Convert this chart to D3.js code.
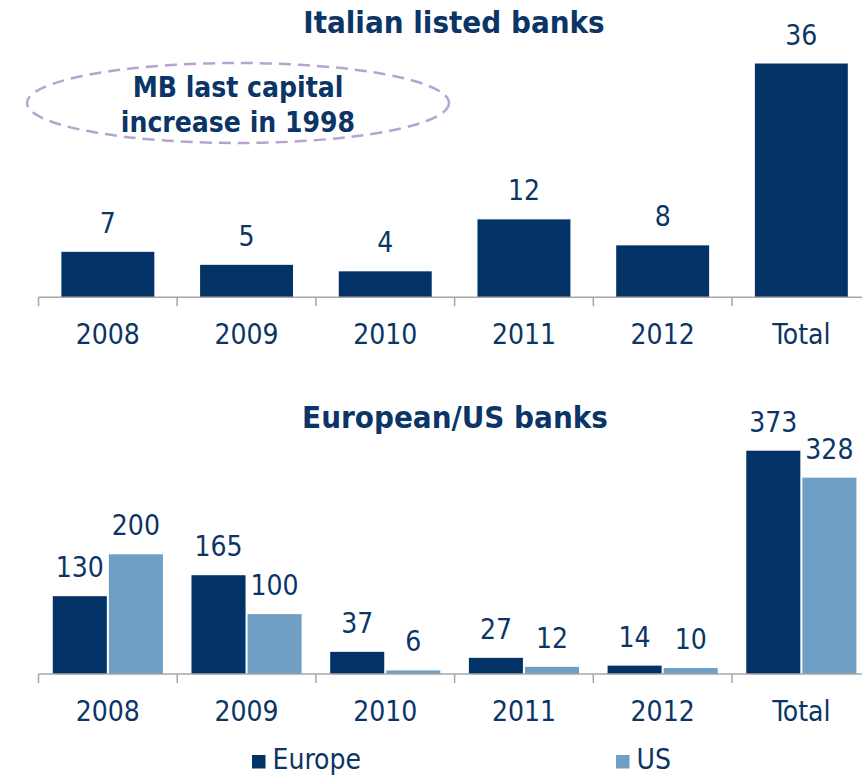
<!DOCTYPE html>
<html>
<head>
<meta charset="utf-8">
<script src="https://cdn.jsdelivr.net/npm/d3@7"></script>
<style>
  html, body { margin: 0; padding: 0; background: #fff; }
  svg { display: block; font-family: "DejaVu Sans Condensed", "DejaVu Sans", sans-serif; }
</style>
</head>
<body>
<svg id="chart" width="862" height="775"></svg>
<script>
// Capital increases: Italian listed banks and European/US banks
const years = ["2008", "2009", "2010", "2011", "2012", "Total"];
const italianValues = [7, 5, 4, 12, 8, 36];
const seriesNames = ["Europe", "US"];
const europeValues = [130, 165, 37, 27, 14, 373];
const usValues = [200, 100, 6, 12, 10, 328];
const noteLines = ["MB last capital", "increase in 1998"];

const NAVY = "#033366";
const LIGHT = "#6f9fc4";
const TEXT = "#0b3566";
const AXIS = "#a6a6a6";

const svg = d3.select("#chart");

const x0 = 38.5, step = 138.7;
const xRange = [x0, x0 + step * years.length];

function drawAxis(g, x, yBase) {
  g.append("line")
    .attr("x1", xRange[0]).attr("x2", xRange[1])
    .attr("y1", yBase).attr("y2", yBase)
    .attr("stroke", AXIS).attr("stroke-width", 1.5);
  const bounds = d3.range(years.length + 1).map(i => xRange[0] + i * x.step());
  g.selectAll("line.tick").data(bounds).join("line")
    .attr("class", "tick")
    .attr("x1", d => d).attr("x2", d => d)
    .attr("y1", yBase).attr("y2", yBase + 9)
    .attr("stroke", AXIS).attr("stroke-width", 1.5);
  g.selectAll("text.cat").data(years).join("text")
    .attr("class", "cat")
    .attr("x", d => x(d) + x.bandwidth() / 2)
    .attr("y", yBase + 47)
    .attr("text-anchor", "middle")
    .attr("font-size", 28)
    .attr("fill", TEXT)
    .text(d => d);
}

// ---------- Upper panel: Italian listed banks ----------
const upper = svg.append("g");
const xTop = d3.scaleBand().domain(years).range(xRange)
  .paddingInner(0.33).paddingOuter(0.165);
const yTop = d3.scaleLinear().domain([0, d3.max(italianValues)]).range([297.3, 63.5]);

upper.append("text")
  .attr("x", 454).attr("y", 33)
  .attr("text-anchor", "middle")
  .attr("font-size", 31).attr("font-weight", "bold")
  .attr("fill", TEXT)
  .text("Italian listed banks");

upper.selectAll("rect.bar").data(italianValues).join("rect")
  .attr("class", "bar")
  .attr("x", (d, i) => xTop(years[i]))
  .attr("width", xTop.bandwidth())
  .attr("y", d => yTop(d))
  .attr("height", d => yTop(0) - yTop(d))
  .attr("fill", NAVY);

upper.selectAll("text.val").data(italianValues).join("text")
  .attr("class", "val")
  .attr("x", (d, i) => xTop(years[i]) + xTop.bandwidth() / 2)
  .attr("y", d => yTop(d) - 19)
  .attr("text-anchor", "middle")
  .attr("font-size", 28)
  .attr("fill", TEXT)
  .text(d => d);

drawAxis(upper, xTop, 297.3);

// Note bubble
upper.append("ellipse")
  .attr("cx", 238).attr("cy", 103)
  .attr("rx", 211).attr("ry", 40)
  .attr("fill", "none")
  .attr("stroke", "#b3a5cf")
  .attr("stroke-width", 2.5)
  .attr("stroke-dasharray", "12 7");
upper.selectAll("text.note").data(noteLines).join("text")
  .attr("class", "note")
  .attr("x", 238)
  .attr("y", (d, i) => 97 + i * 34.5)
  .attr("text-anchor", "middle")
  .attr("font-size", 28).attr("font-weight", "bold")
  .attr("fill", TEXT)
  .text(d => d);

// ---------- Lower panel: European/US banks ----------
const lower = svg.append("g");
const xBot = d3.scaleBand().domain(years).range(xRange)
  .paddingInner(0.206).paddingOuter(0.103);
const xSub = d3.scaleBand().domain(seriesNames).range([0, xBot.bandwidth()]).paddingInner(0.036);
const yBot = d3.scaleLinear()
  .domain([0, d3.max(europeValues.concat(usValues))])
  .range([674, 450.7]);
const color = d3.scaleOrdinal().domain(seriesNames).range([NAVY, LIGHT]);

lower.append("text")
  .attr("x", 455).attr("y", 428)
  .attr("text-anchor", "middle")
  .attr("font-size", 31).attr("font-weight", "bold")
  .attr("fill", TEXT)
  .text("European/US banks");

const rows = years.map((y, i) => ({
  year: y,
  values: [{ key: "Europe", v: europeValues[i] }, { key: "US", v: usValues[i] }]
}));

const groups = lower.selectAll("g.grp").data(rows).join("g")
  .attr("class", "grp")
  .attr("transform", d => `translate(${xBot(d.year)},0)`);

groups.selectAll("rect").data(d => d.values).join("rect")
  .attr("x", d => xSub(d.key))
  .attr("width", xSub.bandwidth())
  .attr("y", d => yBot(d.v))
  .attr("height", d => yBot(0) - yBot(d.v))
  .attr("fill", d => color(d.key));

groups.selectAll("text").data(d => d.values).join("text")
  .attr("x", d => xSub(d.key) + xSub.bandwidth() / 2)
  .attr("y", d => yBot(d.v) - 19)
  .attr("text-anchor", "middle")
  .attr("font-size", 28)
  .attr("fill", TEXT)
  .text(d => d.v);

drawAxis(lower, xBot, 674);

// Legend
const legendX = { Europe: 252, US: 616 };
const legend = lower.selectAll("g.leg").data(seriesNames).join("g")
  .attr("class", "leg")
  .attr("transform", d => `translate(${legendX[d]},755)`);
legend.append("rect")
  .attr("width", 13.5).attr("height", 13.5)
  .attr("fill", d => color(d));
legend.append("text")
  .attr("x", 20.5).attr("y", 14)
  .attr("font-size", 28)
  .attr("fill", TEXT)
  .text(d => d);
</script>
</body>
</html>
